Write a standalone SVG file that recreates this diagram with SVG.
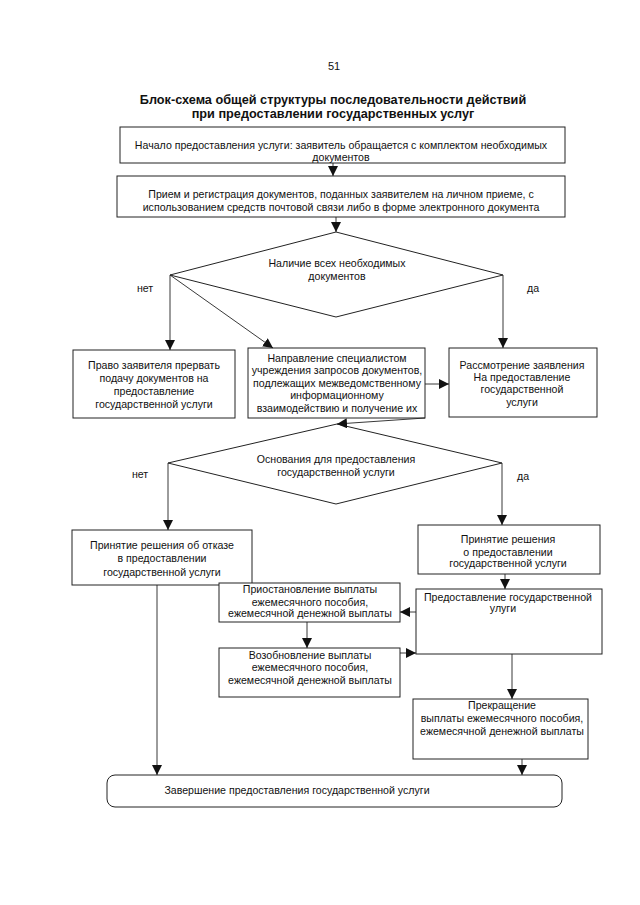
<svg xmlns="http://www.w3.org/2000/svg" width="640" height="905" viewBox="0 0 640 905">
<defs>
<marker id="ah" viewBox="0 0 10 10" refX="10" refY="5" markerWidth="10" markerHeight="10" markerUnits="userSpaceOnUse" orient="auto">
<path d="M0,0 L10,5 L0,10 Z" fill="#111"/>
</marker>
<style>
.b{fill:#fff;stroke:#222;stroke-width:1}
.t{font-family:"Liberation Sans",Arial,sans-serif;font-size:10.6px;fill:#111;text-anchor:middle}
.h{font-family:"Liberation Sans",Arial,sans-serif;font-size:12.7px;font-weight:bold;fill:#111;text-anchor:middle}
.c{fill:none;stroke:#222;stroke-width:0.9;marker-end:url(#ah)}
.l{fill:none;stroke:#222;stroke-width:0.9}
</style>
</defs>
<rect width="640" height="905" fill="#fff"/>
<text class="t" x="334" y="70" style="font-size:11px">51</text>
<text class="h" x="333" y="104">Блок-схема общей структуры последовательности действий</text>
<text class="h" x="333" y="118">при предоставлении государственных услуг</text>

<g id="n1"><rect class="b" x="120" y="127" width="445" height="36"/>
<text class="t" x="341" y="149">Начало предоставления услуги: заявитель обращается с комплектом необходимых</text>
<text class="t" x="341" y="161">документов</text></g>

<g id="n2"><rect class="b" x="117" y="176" width="448" height="41"/>
<text class="t" x="341" y="198">Прием и регистрация документов, поданных заявителем на личном приеме, с</text>
<text class="t" x="341" y="211">использованием средств почтовой связи либо в форме электронного документа</text></g>

<g id="d1"><polygon class="b" points="336,232 503,275 336,317 170,275"/>
<text class="t" x="337" y="267">Наличие всех необходимых</text>
<text class="t" x="337" y="280">документов</text></g>
<text class="t" x="145" y="292">нет</text>
<text class="t" x="533" y="292">да</text>

<g id="n3"><rect class="b" x="73" y="350" width="162" height="68"/>
<text class="t" x="154" y="369">Право заявителя прервать</text>
<text class="t" x="154" y="382">подачу документов на</text>
<text class="t" x="154" y="395">предоставление</text>
<text class="t" x="154" y="408">государственной услуги</text></g>

<g id="n4"><rect class="b" x="248" y="348" width="177" height="70"/>
<text class="t" x="337" y="362">Направление специалистом</text>
<text class="t" x="337" y="374">учреждения запросов документов,</text>
<text class="t" x="337" y="387">подлежащих межведомственному</text>
<text class="t" x="337" y="399">информационному</text>
<text class="t" x="337" y="412">взаимодействию и получение их</text></g>

<g id="n5"><rect class="b" x="449" y="348" width="148" height="69"/>
<text class="t" x="522" y="369">Рассмотрение заявления</text>
<text class="t" x="522" y="381">На предоставление</text>
<text class="t" x="522" y="393">государственной</text>
<text class="t" x="522" y="406">услуги</text></g>

<g id="d2"><polygon class="b" points="337,424 502,463 336,504 168,463"/>
<text class="t" x="336" y="463">Основания для предоставления</text>
<text class="t" x="336" y="476">государственной услуги</text></g>
<text class="t" x="140" y="478">нет</text>
<text class="t" x="523" y="480">да</text>

<g id="n6"><rect class="b" x="72" y="530" width="180" height="55"/>
<text class="t" x="162" y="549">Принятие решения об отказе</text>
<text class="t" x="162" y="562">в предоставлении</text>
<text class="t" x="162" y="576">государственной услуги</text></g>

<g id="n7"><rect class="b" x="418" y="525" width="182" height="49"/>
<text class="t" x="508" y="543">Принятие решения</text>
<text class="t" x="508" y="556">о предоставлении</text>
<text class="t" x="508" y="567">государственной услуги</text></g>

<g id="n8"><rect class="b" x="416" y="589" width="186" height="65"/>
<text class="t" x="508" y="601">Предоставление государственной</text>
<text class="t" x="503" y="612">улуги</text></g>

<g id="n9"><rect class="b" x="219" y="583" width="181" height="39"/>
<text class="t" x="310" y="593">Приостановление выплаты</text>
<text class="t" x="310" y="606">ежемесячного пособия,</text>
<text class="t" x="310" y="617">ежемесячной денежной выплаты</text></g>

<g id="n10"><rect class="b" x="219" y="648" width="181" height="49"/>
<text class="t" x="310" y="659">Возобновление выплаты</text>
<text class="t" x="310" y="671">ежемесячного пособия,</text>
<text class="t" x="310" y="684">ежемесячной денежной выплаты</text></g>

<g id="n11"><rect class="b" x="413" y="699" width="175" height="60"/>
<text class="t" x="502" y="709">Прекращение</text>
<text class="t" x="502" y="722">выплаты ежемесячного пособия,</text>
<text class="t" x="502" y="735">ежемесячной денежной выплаты</text></g>

<g id="n12"><rect class="b" x="107" y="775" width="455" height="32" rx="8" ry="8"/>
<text class="t" x="297" y="794">Завершение предоставления государственной услуги</text></g>

<g id="connectors">
<path class="c" d="M333,163 L333,176"/>
<path class="c" d="M336,217 L336,232"/>
<path class="c" d="M170,275 L170,350"/>
<path class="c" d="M170,275 L273,348"/>
<path class="c" d="M503,275 L503,348"/>
<path class="c" d="M425,384 L449,384"/>
<path class="c" d="M425,418 L337,424"/>
<path class="c" d="M168,463 L168,530"/>
<path class="c" d="M502,463 L502,525"/>
<path class="c" d="M505,574 L505,589"/>
<path class="c" d="M416,612 L400,612"/>
<path class="c" d="M307,622 L307,648"/>
<path class="c" d="M400,653 L416,653"/>
<path class="c" d="M512,654 L512,699"/>
<path class="c" d="M522,759 L522,775"/>
<path class="c" d="M157,585 L157,775"/>
</g>
</svg>
